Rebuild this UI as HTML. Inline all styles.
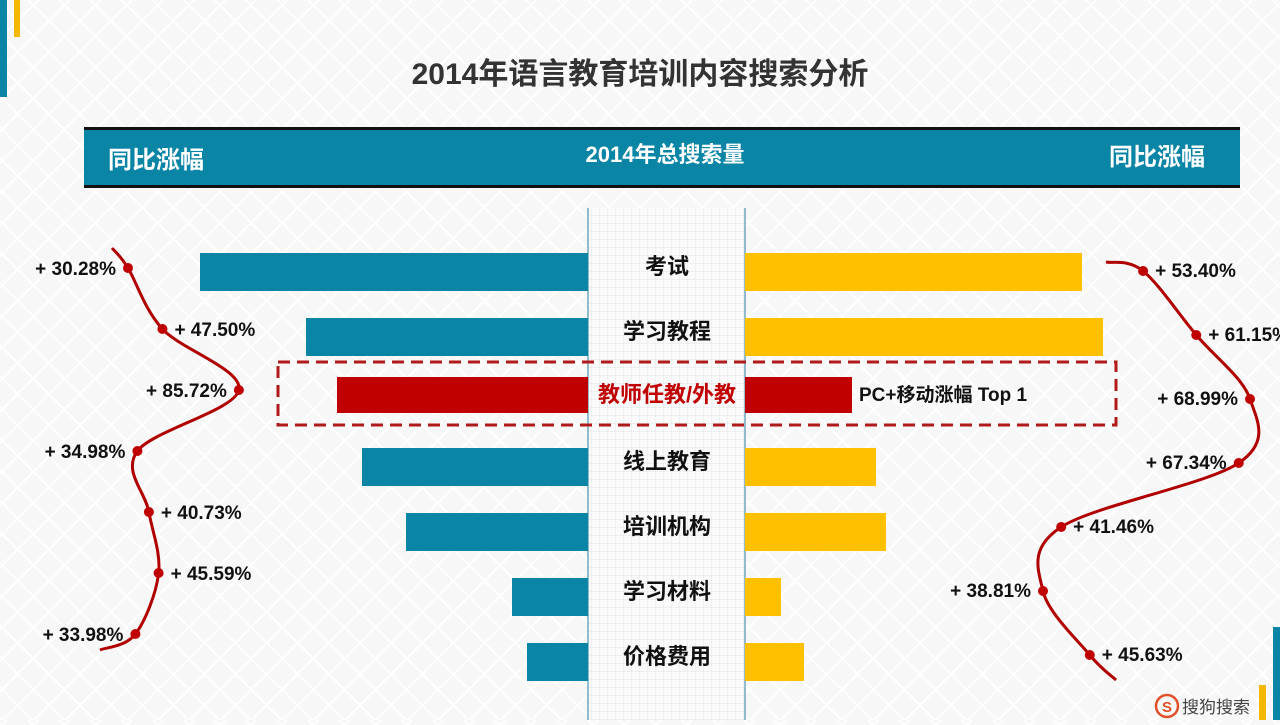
<!DOCTYPE html>
<html><head><meta charset="utf-8"><style>
body{margin:0;width:1280px;height:720px;overflow:hidden;font-family:"Liberation Sans","Noto Sans CJK SC",sans-serif;
background-color:#f7f7f7;background-image:repeating-linear-gradient(45deg,rgba(255,255,255,.9) 0 2px,transparent 2px 22px),repeating-linear-gradient(-45deg,rgba(255,255,255,.9) 0 2px,transparent 2px 22px);}
svg text{font-family:"Liberation Sans","Noto Sans CJK SC",sans-serif;font-weight:bold}
</style></head><body>
<svg id="c" width="1280" height="720">
<defs><pattern id="grid" width="8" height="8" patternUnits="userSpaceOnUse"><rect width="8" height="8" fill="#fafafa"/><path d="M8 0V8H0" fill="none" stroke="#d8dde2" stroke-width="0.7"/></pattern></defs>
<rect x="0" y="0" width="7" height="97" fill="#0a85a5"/>
<rect x="14" y="0" width="6" height="37" fill="#f5b800"/>
<rect x="1273" y="627" width="7" height="93" fill="#0a85a5"/>
<rect x="1259" y="685" width="7" height="35" fill="#f5b800"/>
<text x="640" y="84" text-anchor="middle" font-size="30" fill="#333">2014年语言教育培训内容搜索分析</text>
<rect x="84" y="128" width="1156" height="59" fill="#0a85a5"/>
<rect x="84" y="127" width="1156" height="3" fill="#111"/><rect x="84" y="185" width="1156" height="3" fill="#111"/>
<text x="108" y="168" font-size="24" fill="#fff">同比涨幅</text>
<text x="665" y="162" text-anchor="middle" font-size="22" fill="#fff">2014年总搜索量</text>
<text x="1205" y="165" text-anchor="end" font-size="24" fill="#fff">同比涨幅</text>
<rect x="588" y="208" width="157" height="512" fill="url(#grid)"/>
<line x1="588" y1="208" x2="588" y2="720" stroke="#6fa7bd" stroke-width="1.5"/>
<line x1="745" y1="208" x2="745" y2="720" stroke="#6fa7bd" stroke-width="1.5"/>
<g id="bars"></g>
<rect x="278" y="362" width="838" height="63" fill="none" stroke="#b01a1a" stroke-width="3" stroke-dasharray="12,7"/>
<text x="859" y="401" font-size="19" fill="#111">PC+移动涨幅 Top 1</text>
<g id="curves"></g>
<circle cx="1167" cy="706" r="11" fill="none" stroke="#e0502a" stroke-width="2.5"/>
<text x="1167" y="712" text-anchor="middle" font-size="15" fill="#e0502a">S</text>
<text x="1182" y="713" font-size="17" fill="#444" style="font-weight:normal">搜狗搜索</text>
</svg>
<script>
const categories=["考试","学习教程","教师任教/外教","线上教育","培训机构","学习材料","价格费用"];
const leftValues=[388,282,251,226,182,76,61];
const rightValues=[337,358,107,131,141,36,59];
const leftGrowth=[30.28,47.50,85.72,34.98,40.73,45.59,33.98];
const rightGrowth=[53.40,61.15,68.99,67.34,41.46,38.81,45.63];
const ns="http://www.w3.org/2000/svg";
const rowY=i=>272+i*65;
const barScale=v=>v;
const lx=v=>128+(v-30.28)*2.0;
const rx=v=>1043+(v-38.81)*6.86;
const ly=i=>268+i*61;
const ry=i=>271+i*64;
function mk(t,a,p){const e=document.createElementNS(ns,t);for(const k in a)e.setAttribute(k,a[k]);p.appendChild(e);return e;}
const bars=document.getElementById('bars');
categories.forEach((c,i)=>{
 const hl=i===2;const y=rowY(i)-19-(hl?6:0);
 const lb=mk('rect',{x:588-barScale(leftValues[i]),y:y,width:barScale(leftValues[i]),height:hl?36:38,fill:hl?'#c00000':'#0a85a5'},bars);
 
 
 const rb=mk('rect',{x:745,y:y,width:barScale(rightValues[i]),height:hl?36:38,fill:hl?'#c00000':'#ffc000'},bars);
 
 
 const t=mk('text',{x:667,y:rowY(i)+(hl?0:2),'text-anchor':'middle','font-size':22,fill:hl?'#c00000':'#111'},bars);
 t.textContent=c;
 
 
});
const cg=document.getElementById('curves');
function curve(pts,start,end){
 const P=[start,...pts,end];let d='M'+P[0][0]+' '+P[0][1];
 for(let i=0;i<P.length-1;i++){const p0=P[Math.max(i-1,0)],p1=P[i],p2=P[i+1],p3=P[Math.min(i+2,P.length-1)];
 d+=` C${p1[0]+(p2[0]-p0[0])/6} ${p1[1]+(p2[1]-p0[1])/6} ${p2[0]-(p3[0]-p1[0])/6} ${p2[1]-(p3[1]-p1[1])/6} ${p2[0]} ${p2[1]}`;}
 return d;}
const lPts=leftGrowth.map((v,i)=>[lx(v),ly(i)]);
const rPts=rightGrowth.map((v,i)=>[rx(v),ry(i)]);
const lp=mk('path',{d:curve(lPts,[112,248],[100,650]),fill:'none',stroke:'#b00000','stroke-width':3},cg);


const rp=mk('path',{d:curve(rPts,[1106,262],[1116,680]),fill:'none',stroke:'#b00000','stroke-width':3},cg);


const lSide=[-1,1,-1,-1,1,1,-1],rSide=[1,1,-1,-1,1,-1,1];
lPts.forEach((p,i)=>{const d=mk('circle',{cx:p[0],cy:p[1],r:5,fill:'#c00000'},cg);
 
 
 const t=mk('text',{x:p[0]+lSide[i]*12,y:p[1]+7,'text-anchor':lSide[i]<0?'end':'start','font-size':19,fill:'#111'},cg);
 t.textContent='+ '+leftGrowth[i].toFixed(2)+'%';
 
 });
rPts.forEach((p,i)=>{const d=mk('circle',{cx:p[0],cy:p[1],r:5,fill:'#c00000'},cg);
 
 
 const t=mk('text',{x:p[0]+rSide[i]*12,y:p[1]+6,'text-anchor':rSide[i]<0?'end':'start','font-size':19,fill:'#111'},cg);
 t.textContent='+ '+rightGrowth[i].toFixed(2)+'%';
 
 });
</script>
</body></html>
